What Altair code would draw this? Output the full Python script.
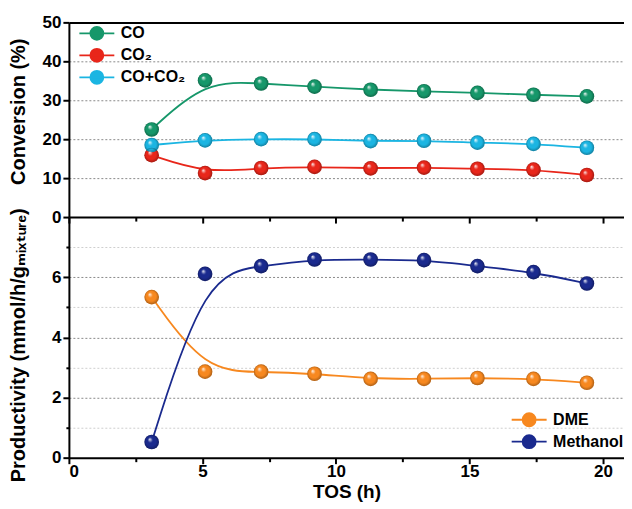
import altair as alt
import pandas as pd

# ---------------- data ----------------
tos = [3.1, 5.1, 7.2, 9.2, 11.3, 13.3, 15.3, 17.4, 19.4]

conv_co = [22.5, 35.1, 34.3, 33.5, 32.7, 32.3, 31.9, 31.4, 31.0]
conv_co2 = [15.9, 11.3, 12.6, 12.9, 12.5, 12.7, 12.4, 12.2, 10.8]
conv_mix = [18.5, 19.7, 20.0, 20.0, 19.5, 19.6, 19.1, 18.8, 17.8]

prod_dme = [5.34, 2.86, 2.86, 2.79, 2.62, 2.62, 2.65, 2.62, 2.49]
prod_meoh = [0.52, 6.11, 6.37, 6.59, 6.59, 6.57, 6.37, 6.17, 5.79]

conv_names = ["CO", "CO₂", "CO+CO₂"]
conv_colors = ["#16976A", "#E8261A", "#1BB5E2"]
prod_names = ["DME", "Methanol"]
prod_colors = ["#F7881F", "#1A2A8E"]

x_ticks = [0, 5, 10, 15, 20]
x_minor = [2.5, 7.5, 12.5, 17.5]
conv_ticks = [0, 10, 20, 30, 40, 50]
prod_ticks = [0, 2, 4, 6]
prod_minor = [1, 3, 5, 7]

conv_title = "Conversion (%)"
prod_title = "Productivity (mmol/h/gₘᵢₓₜᵤᵣₑ)"
x_title = "TOS (h)"


def long_df(names, series):
    rows = []
    for name, vals in zip(names, series):
        for t, v in zip(tos, vals):
            rows.append({"tos": t, "val": v, "series": name})
    return pd.DataFrame(rows)


conv_df = long_df(conv_names, [conv_co, conv_co2, conv_mix])
prod_df = long_df(prod_names, [prod_dme, prod_meoh])

# ---------------- style ----------------
FONT = "Liberation Sans, DejaVu Sans, sans-serif"
W = 556
XMAX = 20.79
SYM = "M-2.5,0L2.5,0M0.93,0A0.93,0.93,0,1,1,-0.93,0A0.93,0.93,0,1,1,0.93,0Z"

gloss = alt.RadialGradient(
    gradient="radial",
    stops=[
        alt.GradientStop(color="rgba(255,255,255,0.95)", offset=0),
        alt.GradientStop(color="rgba(255,255,255,0.0)", offset=0.35),
        alt.GradientStop(color="rgba(0,0,0,0.0)", offset=0.7),
        alt.GradientStop(color="rgba(0,0,0,0.30)", offset=1),
    ],
    x1=0.36, y1=0.3, r1=0, x2=0.5, y2=0.5, r2=0.5,
)


def make_legend(lx, ly):
    return alt.Legend(
        title=None, orient="none", legendX=lx, legendY=ly,
        symbolType=SYM, symbolSize=196, symbolStrokeWidth=1.8,
        labelFont=FONT, labelFontSize=16, labelFontWeight="bold",
        labelColor="black", rowPadding=0, labelOffset=16, padding=0,
    )


def panel(df, names, colors, ydom, ymajor, yminor, ytitle, title_y, height,
          legend, xlabels, top_border, grid_vals):
    xs = alt.Scale(domain=[0, XMAX], nice=False, zero=False)
    ys = alt.Scale(domain=ydom, nice=False, zero=False)
    color = alt.Color("series:N", scale=alt.Scale(domain=names, range=colors),
                      legend=legend, sort=names)
    base = alt.Chart(df)

    if xlabels:
        x_axis = alt.Axis(values=x_ticks, orient="bottom", grid=False, tickSize=6,
                          labelPadding=0, title=x_title, titlePadding=3,
                          titleFontSize=19)
    else:
        x_axis = alt.Axis(values=x_ticks, orient="bottom", grid=False, tickSize=6,
                          labels=False, title=None)
    y_axis = alt.Axis(values=ymajor, orient="left", grid=False, tickSize=6,
                      labelPadding=2, title=ytitle, titleX=-40, titleY=title_y,
                      titleFontSize=20)

    lines = base.mark_line(interpolate="basis", strokeWidth=1.8).encode(
        x=alt.X("tos:Q", scale=xs, axis=x_axis),
        y=alt.Y("val:Q", scale=ys, axis=y_axis),
        color=color,
    )

    grid_axis = alt.Axis(values=grid_vals, orient="left", grid=True,
                         gridDash=[2, 2], gridColor="#8a8a8a", gridWidth=1,
                         ticks=False, labels=False, domain=False, title=None)
    if yminor:
        minor_y = alt.Axis(values=yminor, orient="left", grid=True,
                           gridDash=[2, 2], gridColor="#cfcfcf", gridWidth=1,
                           tickSize=3, labels=False, domain=False, title=None)
    else:
        minor_y = None
    minor_x = alt.Axis(values=x_minor, orient="bottom", grid=False, tickSize=4,
                       labels=False, domain=False, title=None)

    grid_layer = base.mark_point(opacity=0).encode(
        x=alt.X("tos:Q", scale=xs, axis=None),
        y=alt.Y("val:Q", scale=ys, axis=grid_axis),
    )
    minor_layer = base.mark_point(opacity=0).encode(
        x=alt.X("tos:Q", scale=xs, axis=minor_x),
        y=alt.Y("val:Q", scale=ys, axis=minor_y),
    )
    layers = [grid_layer, minor_layer, lines]
    if top_border:
        border = base.mark_point(opacity=0).encode(
            x=alt.X("tos:Q", scale=xs, axis=alt.Axis(orient="top", ticks=False,
                                                      labels=False, grid=False,
                                                      title=None)),
            y=alt.Y("val:Q", scale=ys, axis=None),
        )
        layers.append(border)

    pts = base.mark_point(filled=True, size=215, opacity=1).encode(
        x=alt.X("tos:Q", scale=xs, axis=None),
        y=alt.Y("val:Q", scale=ys, axis=None),
        color=color,
    )
    hl = base.mark_point(filled=True, size=215, fill=gloss, opacity=1,
                         strokeWidth=0).encode(
        x=alt.X("tos:Q", scale=xs, axis=None),
        y=alt.Y("val:Q", scale=ys, axis=None),
    )
    layers += [pts, hl]
    return alt.layer(*layers).resolve_axis(x="independent", y="independent").properties(
        width=W, height=height)


top = panel(conv_df, conv_names, conv_colors, [0, 50], conv_ticks, None,
            conv_title, 89, 195, make_legend(20, 3), False, True, [10, 20, 30, 40])
bottom = panel(prod_df, prod_names, prod_colors, [0, 8], prod_ticks, prod_minor,
               prod_title, 128, 241, make_legend(453, 195), True, False, [2, 4, 6])

chart = alt.vconcat(top, bottom, spacing=0, bounds="flush").resolve_scale(
    color="independent"
).resolve_legend(color="independent").properties(
    padding={"left": 0, "top": 5, "right": 0, "bottom": 0}
).configure_view(stroke=None).configure_axis(
    domainColor="black", domainWidth=2, tickColor="black", tickWidth=2,
    labelFont=FONT, labelFontSize=17, labelFontWeight="bold", labelColor="black",
    titleFont=FONT, titleFontWeight="bold", titleColor="black",
)

chart.save("out.html", embed_options={"renderer": "svg", "actions": False})
